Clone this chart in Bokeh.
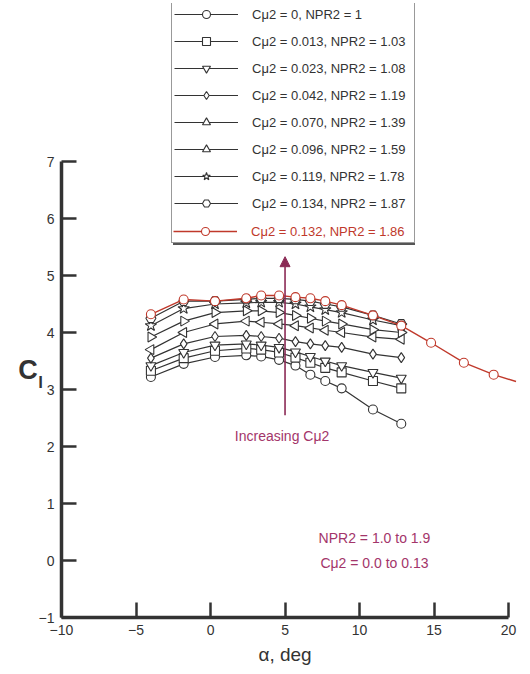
import math
from bokeh.plotting import figure
from bokeh.models import Range1d, Legend, LegendItem, Label, Arrow, NormalHead, FixedTicker
from bokeh.embed import file_html
from bokeh.resources import INLINE

# ---- data ----
alpha = [-4, -1.8, 0.3, 2.4, 3.4, 4.6, 5.7, 6.7, 7.7, 8.8, 10.9, 12.8]
cl_s0 = [3.22, 3.45, 3.57, 3.60, 3.58, 3.52, 3.42, 3.26, 3.15, 3.02, 2.65, 2.40]
cl_s1 = [3.33, 3.55, 3.68, 3.72, 3.70, 3.65, 3.56, 3.47, 3.38, 3.30, 3.15, 3.02]
cl_s2 = [3.42, 3.65, 3.78, 3.80, 3.78, 3.74, 3.66, 3.58, 3.50, 3.42, 3.30, 3.20]
cl_s3 = [3.55, 3.80, 3.93, 3.95, 3.93, 3.90, 3.84, 3.80, 3.77, 3.74, 3.62, 3.56]
cl_s4 = [3.70, 4.00, 4.15, 4.20, 4.18, 4.15, 4.12, 4.08, 4.04, 4.00, 3.92, 3.88]
cl_s5 = [3.92, 4.20, 4.35, 4.38, 4.38, 4.35, 4.30, 4.25, 4.20, 4.15, 4.05, 4.00]
cl_s6 = [4.12, 4.42, 4.50, 4.52, 4.53, 4.53, 4.50, 4.45, 4.40, 4.35, 4.22, 4.12]
cl_s7 = [4.25, 4.55, 4.55, 4.58, 4.60, 4.60, 4.58, 4.55, 4.50, 4.45, 4.30, 4.15]
alpha_red = [-4, -1.8, 0.3, 2.4, 3.4, 4.6, 5.7, 6.7, 7.7, 8.8, 10.9, 12.8, 14.8, 17.0, 19.0, 20.5]
cl_red = [4.32, 4.58, 4.55, 4.60, 4.65, 4.65, 4.62, 4.60, 4.55, 4.48, 4.30, 4.12, 3.82, 3.47, 3.26, 3.14]

series_cl = [cl_s0, cl_s1, cl_s2, cl_s3, cl_s4, cl_s5, cl_s6, cl_s7]
labels = ["Cμ2 = 0, NPR2 = 1", "Cμ2 = 0.013, NPR2 = 1.03", "Cμ2 = 0.023, NPR2 = 1.08",
          "Cμ2 = 0.042, NPR2 = 1.19", "Cμ2 = 0.070, NPR2 = 1.39", "Cμ2 = 0.096, NPR2 = 1.59",
          "Cμ2 = 0.119, NPR2 = 1.78", "Cμ2 = 0.134, NPR2 = 1.87"]
red_label = "Cμ2 = 0.132, NPR2 = 1.86"
markers = ["circle", "square", "inverted_triangle", "diamond", "triangle", "triangle", "star", "hex"]
angles = [0, 0, 0, 0, math.pi / 2, -math.pi / 2, 0, 0]
sizes = [9, 9, 10, 10, 10, 10, 12, 10]
x_ticks = [-10, -5, 0, 5, 10, 15, 20]
y_ticks = [-1, 0, 1, 2, 3, 4, 5, 6, 7]

DARK = "#333333"
RED = "#c0392b"
MAG = "#a3356a"
FONT = "Liberation Sans"

p = figure(frame_width=514, frame_height=666, x_range=Range1d(-13.69, 20.8), y_range=Range1d(-1.912, 9.772),
           output_backend="svg", toolbar_location=None, min_border_left=6, min_border_right=0,
           min_border_top=3, min_border_bottom=0)
p.outline_line_color = None
p.xgrid.visible = False
p.ygrid.visible = False
p.yaxis.fixed_location = -10
p.xaxis.fixed_location = -1

for ax, ticks, bnds in ((p.xaxis[0], x_ticks, (-10, 20)), (p.yaxis[0], y_ticks, (-1, 7))):
    ax.ticker = FixedTicker(ticks=ticks)
    ax.bounds = bnds
    ax.axis_line_width = 3.5
    ax.axis_line_color = DARK
    ax.major_tick_line_width = 2.5
    ax.major_tick_line_color = DARK
    ax.major_tick_in = 15
    ax.major_tick_out = 0
    ax.minor_tick_line_color = None
    ax.major_label_text_font = FONT
    ax.major_label_text_font_size = "14px"
    ax.major_label_text_color = DARK
    ax.major_label_standoff = 7

items = []
shadow_items = []
for cl, m, ang, sz, lab in zip(series_cl, markers, angles, sizes, labels):
    r1 = p.line(alpha, cl, line_color=DARK, line_width=1.2)
    r2 = p.scatter(alpha, cl, marker=m, angle=ang, size=sz, line_color=DARK, fill_color="white", line_width=1.1)
    items.append(LegendItem(label=lab, renderers=[r1, r2]))
    shadow_items.append(LegendItem(label=" ", renderers=[r1]))

rl = p.line(alpha_red, cl_red, line_color=RED, line_width=1.4)
rs = p.scatter(alpha_red[:-1], cl_red[:-1], marker="circle", size=9, line_color=RED, fill_color="white", line_width=1.1)
items.append(LegendItem(label=" ", renderers=[rl, rs]))
shadow_items.append(LegendItem(label=" ", renderers=[rl]))

common = dict(label_text_font=FONT, label_text_font_size="13px", label_height=20, glyph_height=20,
              glyph_width=64, label_standoff=14, spacing=7, margin=0, label_width=160)
legS = Legend(items=shadow_items, location=(167, 424), padding=2, border_line_alpha=0,
              background_fill_color="#555555", background_fill_alpha=1.0, **common)
p.add_layout(legS, "center")
legA = Legend(items=items, location=(165, 426), padding=2, label_text_color=DARK,
              border_line_color=DARK, border_line_width=1.5, background_fill_color="white",
              background_fill_alpha=1.0, **common)
p.add_layout(legA, "center")
legB = Legend(items=[LegendItem(label=red_label, renderers=[rl, rs])], location=(167, 428), padding=0,
              label_text_color=RED, border_line_alpha=0, background_fill_color="white",
              background_fill_alpha=1.0, **common)
p.add_layout(legB, "center")

p.add_layout(Arrow(x_start=5, y_start=2.55, x_end=5, y_end=5.33, line_color="#8b2a55", line_width=1.6,
                   end=NormalHead(size=10, fill_color="#8b2a55", line_color="#8b2a55")))

p.add_layout(Label(x=4.8, y=2.18, text="Increasing Cμ2", text_align="center", text_baseline="middle",
                   text_font=FONT, text_font_size="14px", text_color=MAG))
p.add_layout(Label(x=11.0, y=0.40, text="NPR2 = 1.0 to 1.9", text_align="center", text_baseline="middle",
                   text_font=FONT, text_font_size="14px", text_color=MAG))
p.add_layout(Label(x=11.0, y=-0.04, text="Cμ2 = 0.0 to 0.13", text_align="center", text_baseline="middle",
                   text_font=FONT, text_font_size="14px", text_color=MAG))

p.add_layout(Label(x=5.0, y=-1.65, text="α, deg", text_align="center", text_baseline="middle",
                   text_font=FONT, text_font_size="19px", text_color=DARK))
p.add_layout(Label(x=-12.25, y=3.35, text="C", text_align="center", text_baseline="middle",
                   text_font=FONT, text_font_size="27px", text_font_style="bold", text_color=DARK))
p.add_layout(Label(x=-11.4, y=3.12, text="l", text_align="center", text_baseline="middle",
                   text_font=FONT, text_font_size="17px", text_font_style="bold", text_color=DARK))

open("out.html", "w").write(file_html(p, INLINE))
